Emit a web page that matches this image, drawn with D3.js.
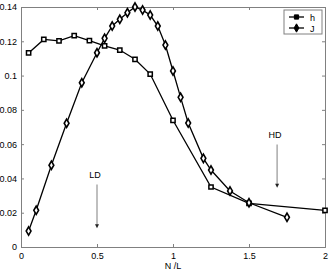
<!DOCTYPE html>
<html>
<head>
<meta charset="utf-8">
<script src="https://cdn.jsdelivr.net/npm/d3@7"></script>
<style>
  body { margin: 0; background: #fff; }
  svg { display: block; font-family: "Liberation Sans", Arial, sans-serif; }
</style>
</head>
<body>
<svg id="chart" width="333" height="273"></svg>
<script>
// h series (squares)
const hX = [0.05, 0.15, 0.25, 0.35, 0.45, 0.55, 0.65, 0.75, 0.85, 1.0, 1.25, 1.5, 2.0];
const hY = [0.1132, 0.1211, 0.1202, 0.1233, 0.1204, 0.1173, 0.1149, 0.1095, 0.1009, 0.0739, 0.0350, 0.0255, 0.0214];
// J series (diamonds)
const jX = [0.05, 0.1, 0.2, 0.3, 0.4, 0.5, 0.55, 0.6, 0.65, 0.7, 0.75, 0.8, 0.85, 0.9, 0.95, 1.0, 1.05, 1.1, 1.2, 1.25, 1.375, 1.5, 1.75];
const jY = [0.0093, 0.0214, 0.0477, 0.0722, 0.0958, 0.1133, 0.1217, 0.1289, 0.1328, 0.1367, 0.1400, 0.1382, 0.1353, 0.1289, 0.1178, 0.1027, 0.0873, 0.0723, 0.0517, 0.0449, 0.0327, 0.0258, 0.0173];

const xTicks = [0, 0.5, 1, 1.5, 2];
const yTicks = [0, 0.02, 0.04, 0.06, 0.08, 0.1, 0.12, 0.14];

const margin = {top: 7, right: 8, bottom: 26, left: 21};
const width = 333 - margin.left - margin.right;
const height = 273 - margin.top - margin.bottom;

const svg = d3.select("#chart");
const g = svg.append("g").attr("transform", `translate(${margin.left},${margin.top})`);

const x = d3.scaleLinear().domain([0, 2]).range([0, width]);
const y = d3.scaleLinear().domain([0, 0.14]).range([height, 0]);

const axisColor = "#808080";

// axes (box with inward ticks)
const xAxis = g.append("g").attr("transform", `translate(0,${height})`)
    .call(d3.axisBottom(x).tickValues(xTicks).tickSize(-3).tickPadding(6).tickFormat(d3.format("")));
const yAxis = g.append("g")
    .call(d3.axisLeft(y).tickValues(yTicks).tickSize(-3).tickPadding(4).tickFormat(d => d === 0 ? "0" : d3.format("")(d)));
const xTop = g.append("g")
    .call(d3.axisTop(x).tickValues(xTicks).tickSize(-3).tickFormat(""));
const yRight = g.append("g").attr("transform", `translate(${width},0)`)
    .call(d3.axisRight(y).tickValues(yTicks).tickSize(-3).tickFormat(""));

[xAxis, yAxis, xTop, yRight].forEach(a => {
    a.selectAll("path, line").attr("stroke", axisColor);
    a.selectAll("text").attr("fill", "#000").style("font-size", "9px")
        .style("font-family", "'Liberation Sans', Arial, sans-serif");
});

g.append("text")
    .attr("x", x(1)).attr("y", height + 22)
    .attr("text-anchor", "middle")
    .style("font-size", "9px")
    .text("N /L");

const line = d3.line().x(d => x(d[0])).y(d => y(d[1]));
const hData = hX.map((v, i) => [v, hY[i]]);
const jData = jX.map((v, i) => [v, jY[i]]);

g.append("path").datum(hData).attr("d", line)
    .attr("fill", "none").attr("stroke", "#000").attr("stroke-width", 1.3);
g.append("path").datum(jData).attr("d", line)
    .attr("fill", "none").attr("stroke", "#000").attr("stroke-width", 1.3);

const square = d3.symbol().type(d3.symbolSquare).size(18);
const diamond = d3.symbol().type(d3.symbolDiamond).size(20);

g.selectAll("path.sq").data(hData).enter().append("path")
    .attr("class", "sq")
    .attr("d", square)
    .attr("transform", d => `translate(${x(d[0])},${y(d[1])})`)
    .attr("fill", "#fff").attr("stroke", "#000").attr("stroke-width", 1.5);

g.selectAll("path.dm").data(jData).enter().append("path")
    .attr("class", "dm")
    .attr("d", diamond)
    .attr("transform", d => `translate(${x(d[0])},${y(d[1])})`)
    .attr("fill", "#fff").attr("stroke", "#000").attr("stroke-width", 1.6);

// annotations
const notes = [
    {label: "LD", xv: 0.5, textY: 0.0400, y0: 0.0365, y1: 0.0110},
    {label: "HD", xv: 1.685, textY: 0.0637, y0: 0.0598, y1: 0.0345}
];
notes.forEach(n => {
    g.append("text")
        .attr("x", x(n.xv) - 2).attr("y", y(n.textY))
        .attr("text-anchor", "middle")
        .style("font-size", "9px")
        .text(n.label);
    g.append("line")
        .attr("x1", x(n.xv)).attr("x2", x(n.xv))
        .attr("y1", y(n.y0)).attr("y2", y(n.y1) - 3)
        .attr("stroke", "#aaa").attr("stroke-width", 1.5);
    const hx = x(n.xv), hy = y(n.y1);
    g.append("path")
        .attr("d", `M${hx - 2},${hy - 4}L${hx + 2},${hy - 4}L${hx},${hy}Z`)
        .attr("fill", "#222");
});

// legend
const lg = g.append("g").attr("transform", `translate(${284 - margin.left},${10 - margin.top})`);
lg.append("rect").attr("width", 38).attr("height", 24)
    .attr("fill", "#fff").attr("stroke", axisColor).attr("stroke-width", 1);
const legendItems = [{name: "h", sym: square}, {name: "J", sym: diamond}];
legendItems.forEach((d, i) => {
    const yy = 7 + i * 11;
    lg.append("line").attr("x1", 5).attr("x2", 20).attr("y1", yy).attr("y2", yy)
        .attr("stroke", "#000").attr("stroke-width", 1.3);
    lg.append("path").attr("d", d.sym).attr("transform", `translate(12.5,${yy})`)
        .attr("fill", "#000").attr("stroke", "#000").attr("stroke-width", 1);
    lg.append("text").attr("x", 26).attr("y", yy + 3.5)
        .style("font-size", "9px").text(d.name);
});
</script>
</body>
</html>
